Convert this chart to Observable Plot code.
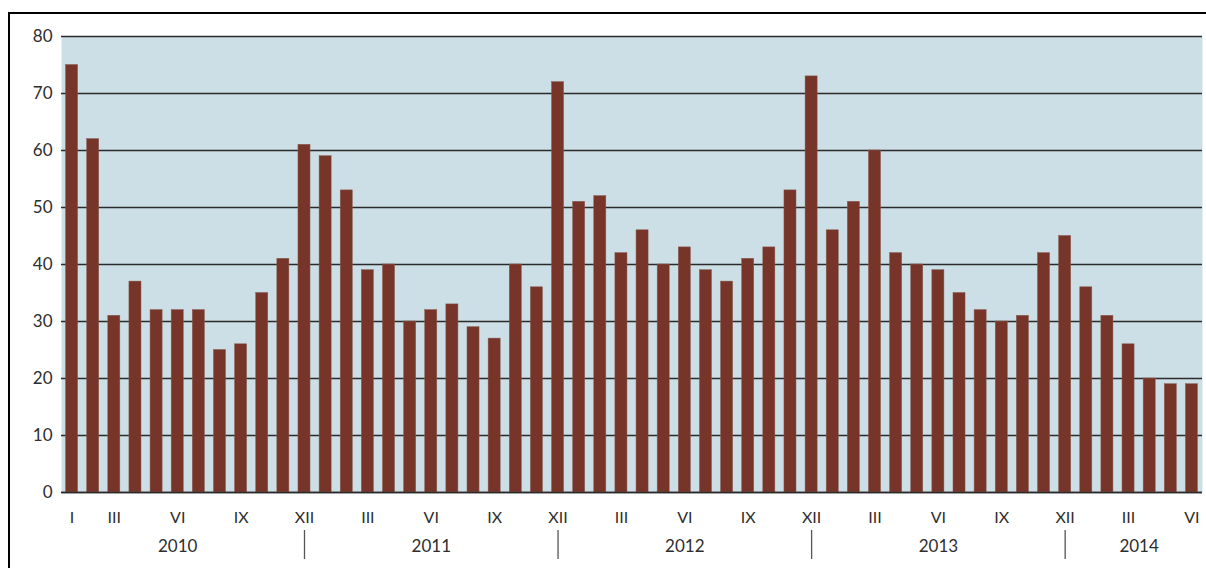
<!DOCTYPE html>
<html>
<head>
<meta charset="utf-8">
<script src="https://cdn.jsdelivr.net/npm/d3@7"></script>
<script src="https://cdn.jsdelivr.net/npm/@observablehq/plot@0.6"></script>
<style>
  html, body { margin: 0; padding: 0; background: #fff; }
  #wrap { position: relative; width: 1206px; height: 568px; overflow: hidden; }
  #border { position: absolute; left: 8px; top: 12px; right: 0; bottom: -4px;
            border-top: 2px solid #000; border-left: 2px solid #000; }
  #chart { position: absolute; left: 0; top: 0; }
</style>
</head>
<body>
<div id="wrap"><div id="border"></div><div id="chart"></div></div>
<script>
const years = [2010, 2011, 2012, 2013, 2014];
const monthsPerYear = [12, 12, 12, 12, 6];
const months = ["I","II","III","IV","V","VI","VII","VIII","IX","X","XI","XII"];
const shownMonths = ["III","VI","IX","XII"];
const values = [
  75, 62, 31, 37, 32, 32, 32, 25, 26, 35, 41, 61,
  59, 53, 39, 40, 30, 32, 33, 29, 27, 40, 36, 72,
  51, 52, 42, 46, 40, 43, 39, 37, 41, 43, 53, 73,
  46, 51, 60, 42, 40, 39, 35, 32, 30, 31, 42, 45,
  36, 31, 26, 20, 19, 19
];
const yTicks = [0, 10, 20, 30, 40, 50, 60, 70, 80];

// build table
const data = [];
let idx = 0;
years.forEach((y, k) => {
  for (let m = 0; m < monthsPerYear[k]; m++) {
    data.push({i: idx, year: y, month: months[m], value: values[idx]});
    idx++;
  }
});
const n = data.length;
const tickData = data.filter(d => d.i === 0 || shownMonths.includes(d.month));

// year groups (Excel-style grouping shifted by one category)
const lastIdx = [];
{ let c = 0; monthsPerYear.forEach(m => { c += m; lastIdx.push(c - 1); }); }
const bounds = [-1, ...lastIdx.slice(0, -1), n];
const seps = lastIdx.slice(0, -1);
const yearData = years.map((y, k) => ({year: y, x: (bounds[k] + bounds[k + 1]) / 2}));

const font = "Lato, 'Open Sans', sans-serif";
const txt = "#2e2e2e";
const half = 0.285;

const chart = Plot.plot({
  width: 1206,
  height: 568,
  marginLeft: 61,
  marginRight: 4,
  marginTop: 36,
  marginBottom: 76,
  style: {fontFamily: font, background: "transparent", overflow: "visible"},
  x: {domain: [-0.5, n - 0.5], axis: null},
  y: {domain: [0, 80], axis: null},
  marks: [
    Plot.frame({fill: "#cddfe6", stroke: null}),
    Plot.ruleY(yTicks, {stroke: "#2b2b2b", strokeWidth: 1.6}),
    Plot.rectY(data, {x1: d => d.i - half, x2: d => d.i + half, y1: 0, y2: "value", fill: "#773428", stroke: "#8a5a50", strokeWidth: 0.5}),
    Plot.ruleY([0], {stroke: "#2b2b2b", strokeWidth: 1.6}),
    Plot.text(yTicks, {frameAnchor: "left", y: d => d, text: d => String(d), textAnchor: "end", dx: -9, fontSize: 17, fill: txt}),
    Plot.text(tickData, {x: "i", y: 0, text: "month", dy: 25, fontSize: 16, fill: txt, lineAnchor: "middle"}),
    Plot.text(yearData, {x: "x", y: 0, text: d => String(d.year), dy: 54, fontSize: 17, fill: txt, lineAnchor: "middle"}),
    Plot.ruleX(seps, {x: d => d, insetTop: 427, dy: 67, stroke: "#555", strokeWidth: 1.3})
  ]
});
document.getElementById("chart").appendChild(chart);
</script>
</body>
</html>
